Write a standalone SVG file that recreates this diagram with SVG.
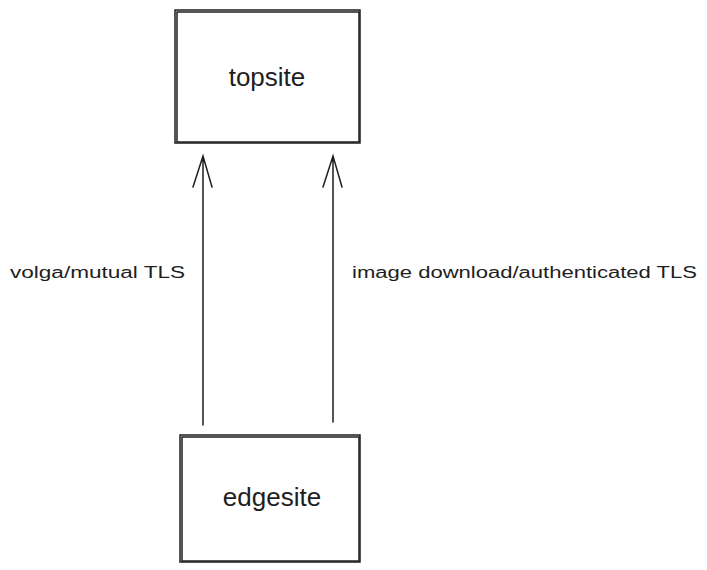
<svg xmlns="http://www.w3.org/2000/svg" width="707" height="570" viewBox="0 0 707 570">
<style>
.box{fill:none;stroke:#1e1e1e;stroke-width:1.5}
.t{font-family:"Liberation Sans",sans-serif;fill:#1e1e1e}
.n{font-size:26px;text-anchor:middle}
.l{font-size:16px}
.c{fill:none;stroke:#1e1e1e;stroke-width:1.5;stroke-linecap:round}
</style>
<rect width="707" height="570" fill="#fff"/>
<g id="topsite"><rect class="box" x="175" y="10" width="185" height="133"/><rect class="box" x="177" y="12" width="182" height="130"/><text class="t n" x="267" y="86">topsite</text></g>
<g id="edgesite"><rect class="box" x="180" y="435" width="180" height="127"/><rect class="box" x="182" y="437" width="177" height="124"/><text class="t n" x="272" y="506">edgesite</text></g>
<g id="connectors">
<path class="c" d="M203 425 L203 156 M193 187 L203 156 L212 187"/>
<path class="c" d="M333 422 L333 156 M323 187 L333 156 L342 187"/>
<text class="t l" x="10" y="278" textLength="175" lengthAdjust="spacingAndGlyphs">volga/mutual TLS</text>
<text class="t l" x="352" y="278" textLength="345" lengthAdjust="spacingAndGlyphs">image download/authenticated TLS</text>
</g>
</svg>
